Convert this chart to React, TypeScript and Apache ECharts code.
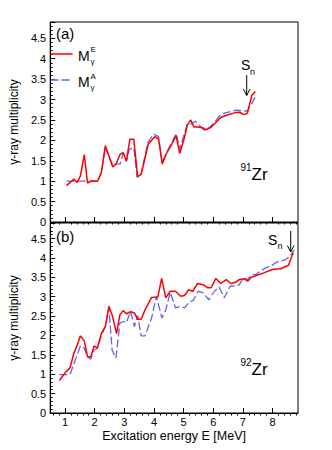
import React, { useEffect, useRef } from "react";
import * as echarts from "echarts";

// 91Zr, panel (a)
const zr91EnergyE = [1.05,1.3,1.41,1.52,1.65,1.76,1.9,2.0,2.1,2.23,2.36,2.61,2.72,2.86,2.96,3.07,3.19,3.32,3.45,3.57,3.81,4.03,4.16,4.28,4.41,4.6,4.75,4.87,5.0,5.13,5.24,5.35,5.49,5.64,5.75,5.93,6.09,6.25,6.47,6.75,6.88,7.05,7.15,7.3,7.42];
const zr91MultE = [0.89,1.05,0.97,1.13,1.65,0.95,1.01,1.0,1.0,1.22,1.87,1.35,1.42,1.66,1.70,1.5,2.03,2.03,1.11,1.17,1.91,2.09,2.03,1.42,1.66,1.91,2.11,1.68,1.99,2.38,2.5,2.33,2.33,2.31,2.26,2.32,2.44,2.56,2.62,2.68,2.69,2.63,2.66,3.1,3.2];
const zr91EnergyA = [1.05,2.1,2.23,2.36,2.61,2.75,2.86,2.96,3.07,3.17,3.32,3.43,3.55,3.8,3.98,4.15,4.28,4.42,4.6,4.75,4.87,5.0,5.12,5.25,5.4,5.55,5.7,5.85,6.05,6.25,6.45,6.6,6.8,7.0,7.15,7.3,7.42];
const zr91MultA = [1.0,1.0,1.22,1.83,1.38,1.42,1.42,1.68,1.48,1.78,1.82,1.1,1.12,1.95,2.15,2.1,1.45,1.7,1.95,2.17,1.78,2.1,2.4,2.4,2.47,2.35,2.25,2.3,2.45,2.64,2.68,2.71,2.74,2.72,2.72,2.9,3.07];

// 92Zr, panel (b)
const zr92EnergyE = [0.81,1.0,1.17,1.3,1.41,1.52,1.65,1.76,1.87,1.98,2.09,2.23,2.36,2.48,2.59,2.74,2.85,2.96,3.07,3.21,3.34,3.45,3.57,3.7,3.92,4.13,4.26,4.4,4.55,4.73,4.9,5.03,5.17,5.31,5.47,5.66,5.82,5.93,6.09,6.26,6.44,6.6,6.75,6.88,7.05,7.16,7.29,7.73,8.0,8.27,8.54,8.7];
const zr92MultE = [0.84,1.03,1.17,1.54,1.75,1.99,1.86,1.45,1.45,1.73,1.67,2.06,2.23,2.75,2.53,2.05,2.53,2.64,2.56,2.61,2.58,2.42,2.42,2.66,2.98,2.99,3.47,2.97,3.14,3.14,3.01,3.03,3.18,3.14,3.34,3.31,3.23,3.23,3.47,3.34,3.44,3.34,3.37,3.44,3.46,3.40,3.5,3.62,3.7,3.72,3.81,4.14];
const zr92EnergyA = [0.81,1.17,1.3,1.52,1.65,1.76,1.87,1.98,2.09,2.23,2.36,2.48,2.59,2.72,2.85,2.96,3.07,3.21,3.34,3.45,3.57,3.7,3.92,4.08,4.27,4.4,4.55,4.73,4.9,5.03,5.17,5.33,5.49,5.66,5.85,6.04,6.2,6.37,6.58,6.75,6.88,7.02,7.16,7.29,7.45,7.59,7.78,7.94,8.16,8.43,8.6,8.73];
const zr92MultA = [0.99,0.99,1.27,1.73,1.67,1.45,1.39,1.62,1.67,2.01,2.23,2.71,1.62,1.42,2.32,2.36,2.33,2.62,2.23,2.51,1.99,1.99,2.45,3.01,2.45,2.66,3.11,2.71,2.75,2.71,2.84,2.91,3.14,3.1,2.92,3.14,3.25,2.97,3.28,3.27,3.31,3.49,3.44,3.57,3.57,3.66,3.75,3.79,3.9,3.95,4.05,4.21];

const xMajorTicks = [1, 2, 3, 4, 5, 6, 7, 8];
const xMinorTicks = [0.6,0.8,1.2,1.4,1.6,1.8,2.2,2.4,2.6,2.8,3.2,3.4,3.6,3.8,4.2,4.4,4.6,4.8,5.2,5.4,5.6,5.8,6.2,6.4,6.6,6.8,7.2,7.4,7.6,7.8,8.2,8.4,8.6,8.8];

const FONT = "Liberation Sans, Arial, Helvetica, sans-serif";
const RED = "#ff0000";
const BLUE = "#6464e8";

const pairs = (xs: number[], ys: number[]) => xs.map((x, i) => [x, ys[i]]);

export default function App() {
  const ref = useRef<HTMLDivElement>(null);
  useEffect(() => {
    if (!ref.current) return;
    const chart = echarts.init(ref.current, undefined, { renderer: "svg" });
    const X_MIN = 0.5;
    const X_MAX = 8.86;
    const majorX = (gridIndex: number, showLabels: boolean) => ({
      type: "value",
      gridIndex,
      min: X_MIN,
      max: X_MAX,
      axisLine: { show: true, onZero: false, lineStyle: { color: "#000", width: 1 } },
      axisTick: { show: true, inside: true, length: 5, customValues: xMajorTicks, lineStyle: { color: "#000" } },
      axisLabel: {
        show: showLabels,
        customValues: xMajorTicks,
        fontSize: 11,
        fontFamily: FONT,
        color: "#000",
        margin: 3,
      },
      splitLine: { show: false },
      name: showLabels ? "Excitation energy E [MeV]" : "",
      nameLocation: "middle",
      nameGap: 16,
      nameTextStyle: { fontSize: 12.5, fontFamily: FONT, color: "#000" },
    });
    const minorX = (gridIndex: number) => ({
      type: "value",
      gridIndex,
      min: X_MIN,
      max: X_MAX,
      axisLine: { show: false },
      axisTick: { show: true, inside: true, length: 2.5, customValues: xMinorTicks, lineStyle: { color: "#000" } },
      axisLabel: { show: false },
      splitLine: { show: false },
    });
    const yAx = (gridIndex: number) => ({
      type: "value",
      gridIndex,
      min: 0,
      max: 4.9,
      interval: 0.5,
      axisLine: { show: true, onZero: false, lineStyle: { color: "#000", width: 1 } },
      axisTick: { show: true, inside: true, length: 5, lineStyle: { color: "#000" } },
      minorTick: { show: true, splitNumber: 5, length: 2.5, lineStyle: { color: "#000" } },
      axisLabel: {
        showMaxLabel: false,
        fontSize: 11,
        fontFamily: FONT,
        color: "#000",
        margin: 4,
      },
      splitLine: { show: false },
      minorSplitLine: { show: false },
      name: "γ-ray multiplicity",
      nameLocation: "middle",
      nameGap: 25,
      nameTextStyle: { fontSize: 12, fontFamily: FONT, color: "#000" },
    });
    const lineE = (name: string, x: number, y: number, xs: number[], ys: number[]) => ({
      type: "line",
      name,
      xAxisIndex: x,
      yAxisIndex: y,
      data: pairs(xs, ys),
      showSymbol: false,
      symbol: "none",
      lineStyle: { color: RED, width: 1.5 },
      z: 3,
    });
    const lineA = (name: string, x: number, y: number, xs: number[], ys: number[]) => ({
      type: "line",
      name,
      xAxisIndex: x,
      yAxisIndex: y,
      data: pairs(xs, ys),
      showSymbol: false,
      symbol: "none",
      lineStyle: { color: BLUE, width: 1.3, type: [8, 3] },
      z: 2,
    });
    const txt = (text: string, x: number, y: number, size: number, extra: any = {}) => ({
      type: "text",
      x,
      y,
      style: {
        text,
        fontSize: size,
        fontFamily: FONT,
        fill: "#000",
        verticalAlign: "middle",
        align: "left",
        ...extra,
      },
      z: 10,
    });
    chart.setOption({
      animation: false,
      backgroundColor: "#fff",
      grid: [
        { left: 42, top: 22, width: 256, height: 200, show: true, borderColor: "#000", borderWidth: 1, backgroundColor: "transparent" },
        { left: 42, top: 223, width: 256, height: 190, show: true, borderColor: "#000", borderWidth: 1, backgroundColor: "transparent" },
      ],
      xAxis: [majorX(0, false), minorX(0), majorX(1, true), minorX(1)],
      yAxis: [yAx(0), yAx(1)],
      series: [
        lineA("M_A 91Zr", 0, 0, zr91EnergyA, zr91MultA),
        lineE("M_E 91Zr", 0, 0, zr91EnergyE, zr91MultE),
        lineA("M_A 92Zr", 2, 1, zr92EnergyA, zr92MultA),
        lineE("M_E 92Zr", 2, 1, zr92EnergyE, zr92MultE),
      ],
      graphic: [
        txt("(a)", 56, 33, 15),
        { type: "line", shape: { x1: 50.7, y1: 54, x2: 72.7, y2: 54 }, style: { stroke: RED, lineWidth: 1.5 }, z: 10 },
        txt("M", 78, 56, 14),
        txt("E", 90.5, 49.5, 8),
        txt("γ", 90.5, 61, 8),
        { type: "line", shape: { x1: 50.7, y1: 80, x2: 72.7, y2: 80 }, style: { stroke: BLUE, lineWidth: 1.3, lineDash: [8, 3] }, z: 10 },
        txt("M", 78, 82, 14),
        txt("A", 90.5, 76, 8),
        txt("γ", 90.5, 87.5, 8),
        txt("S", 241, 65, 14),
        txt("n", 250, 71.5, 9),
        { type: "line", shape: { x1: 246.7, y1: 75, x2: 246.7, y2: 95.5 }, style: { stroke: "#000", lineWidth: 1 }, z: 10 },
        { type: "polyline", shape: { points: [[243.4, 89], [246.7, 95.5], [250, 89]] }, style: { stroke: "#000", lineWidth: 1, fill: "none" }, z: 10 },
        txt("91", 240.5, 167.5, 10),
        txt("Zr", 251.5, 174.5, 17),
        txt("(b)", 56, 236, 15),
        txt("S", 268, 239.5, 14),
        txt("n", 277.5, 245.5, 9),
        { type: "line", shape: { x1: 290.7, y1: 231, x2: 290.7, y2: 252 }, style: { stroke: "#000", lineWidth: 1 }, z: 10 },
        { type: "polyline", shape: { points: [[287.4, 245.5], [290.7, 252], [294, 245.5]] }, style: { stroke: "#000", lineWidth: 1, fill: "none" }, z: 10 },
        txt("92", 240.5, 362.5, 10),
        txt("Zr", 251.5, 369, 17),
      ],
    });
    return () => chart.dispose();
  }, []);
  return (
    <div
      ref={ref}
      style={{ position: "fixed", left: 0, top: 0, width: 332, height: 450, background: "#fff" }}
    />
  );
}
